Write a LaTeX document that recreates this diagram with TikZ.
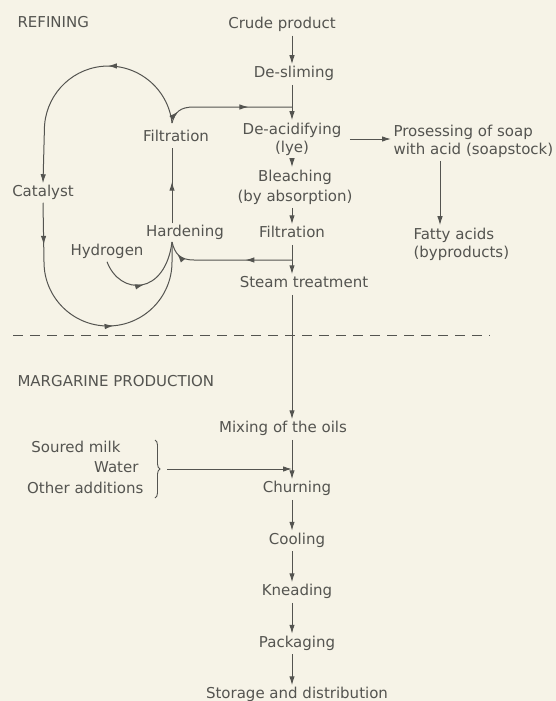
\documentclass[tikz,border=0pt]{standalone}
\usepackage{fontspec}
\setmainfont{DejaVu Sans}
\usepackage{tikz}
\usetikzlibrary{arrows.meta}
\usetikzlibrary{positioning}
\usetikzlibrary{decorations.markings}
\usetikzlibrary{decorations.pathreplacing}
\definecolor{paper}{RGB}{246,243,231}
\definecolor{ink}{RGB}{84,84,80}
\tikzset{midarr/.style={postaction={decorate,decoration={markings,mark=at position #1 with {\arrow{>}}}}}}
\tikzset{flow/.style={->,shorten <=1pt}}

\begin{document}
\begin{tikzpicture}[x=1pt,y=1pt,>={Latex[length=9pt,width=5.5pt]},line width=1pt,color=ink]
\tikzstyle{stage} = [inner sep=2pt, text height=11pt, text depth=3.5pt, font=\fontsize{15}{18}\selectfont, node distance = 32pt]
\tikzstyle{stack} = [inner sep=2pt, font=\fontsize{15}{18}\selectfont]

\fill[paper] (0,0) rectangle (556,-701);
\useasboundingbox (0,0) rectangle (556,-701);

% headings
\node[stage, anchor=west] (REF)  at (15,-24)  {REFINING};
\node[stage, anchor=west] (MARG) at (15,-383) {MARGARINE PRODUCTION};
\draw[line width=0.9pt, dash pattern=on 10pt off 7pt] (13,-335) -- (490,-335);

% refining line
\coordinate (spine) at (292,0);
\node[stage] (crude)  at (282,-25)  {Crude product};
\node[stage] (desl)   at (294,-74)  {De-sliming};
\node[stack, align=center] (deac)   at (292,-139) {De-acidifying\\(lye)};
\node[stack, align=center] (bleach) at (295,-187) {Bleaching\\[2pt](by absorption)};
\node[stage] (filt)   at (292,-234) {Filtration};
\node[stage] (steam)  at (304,-284) {Steam treatment};
\node[stage] (mix)    at (283,-429) {Mixing of the oils};

\draw[flow] (crude.south -| spine)  -- (desl.north -| spine);
\draw[flow] (desl.south -| spine)   -- (deac.north -| spine);
\draw[flow] (deac.south -| spine)   -- (bleach.north -| spine);
\draw[flow] (bleach.south -| spine) -- (filt.north -| spine);
\draw[flow] (filt.south -| spine)   -- (steam.north -| spine);
\draw[flow] (steam.south -| spine)  -- (mix.north -| spine);

% soapstock
\node[stack, align=left, anchor=west] (soap)  at (391,-141) {Prosessing of soap\\with acid (soapstock)};
\node[stack, align=left, anchor=west] (fatty) at (411,-244) {Fatty acids\\(byproducts)};
\coordinate (side) at (440,0);
\draw[flow, shorten <=6pt] (deac.east) -- (deac.east -| soap.west);
\draw[flow] (soap.south -| side) -- (fatty.north -| side);

% hardening loop
\coordinate (loopx) at (172,0);
\node[stage] (filtL) at (176,-138) {Filtration};
\node[stage] (hard)  at (185,-233) {Hardening};
\node[stage] (cat)   at (43,-193)  {Catalyst};
\node[stage] (hyd)   at (107,-252) {Hydrogen};
\coordinate (tc)   at (172,-123);
\coordinate (bc)   at (172,-242);
\coordinate (jtop) at (292,-107);
\coordinate (jbot) at (292,-260);

\draw[midarr=0.1, midarr=0.66] (tc) .. controls (175,-112) and (180,-107) .. (194,-107) -- (jtop);
\draw[midarr=0.36, midarr=0.9] (jbot) -- (194,-260) .. controls (180,-260) and (175,-254) .. (bc);
\draw[midarr=0.55] (hard.north -| loopx) -- (filtL.south -| loopx);
\draw[->, midarr=0.38] (tc) arc[start angle=6.3, end angle=180, radius=64] -- (cat.north);
\draw[midarr=0.15, midarr=0.59] (cat.south) -- (44,-262) arc[start angle=180, end angle=360, radius=64] -- (bc);
\draw[midarr=0.47] (hyd.south) .. controls (120,-296) and (165,-296) .. (bc);

% margarine production
\node[stage, anchor=east] (milk)  at (123,-449) {Soured milk};
\node[stage, anchor=east] (water) at (141,-469) {Water};
\node[stage, anchor=east] (other) at (146,-490) {Other additions};
\coordinate (bracetop) at (155,-440);
\coordinate (brcbot)   at (155,-498);
\coordinate (bracetip) at (167,-469);
\draw[line width=0.9pt, decorate, decoration={brace, amplitude=5pt}] (bracetop) -- (brcbot);

\node[stage] (MP0) at (297,-489) {Churning};
\foreach \t [count=\c] in {Cooling,Kneading,Packaging,Storage and distribution}
{
   \node[stage] (MP\c) [below = of MP\the\numexpr \c - 1\relax] {\t};
}
\draw[flow] (mix.south -| spine) -- (MP0.north -| spine);
\draw[->] (bracetip) -- (bracetip -| spine);
\foreach \c in {1,...,4}
{
   \draw[flow] (MP\the\numexpr \c - 1\relax.south -| spine) -- (MP\c.north -| spine);
}

\end{tikzpicture}
\end{document}
